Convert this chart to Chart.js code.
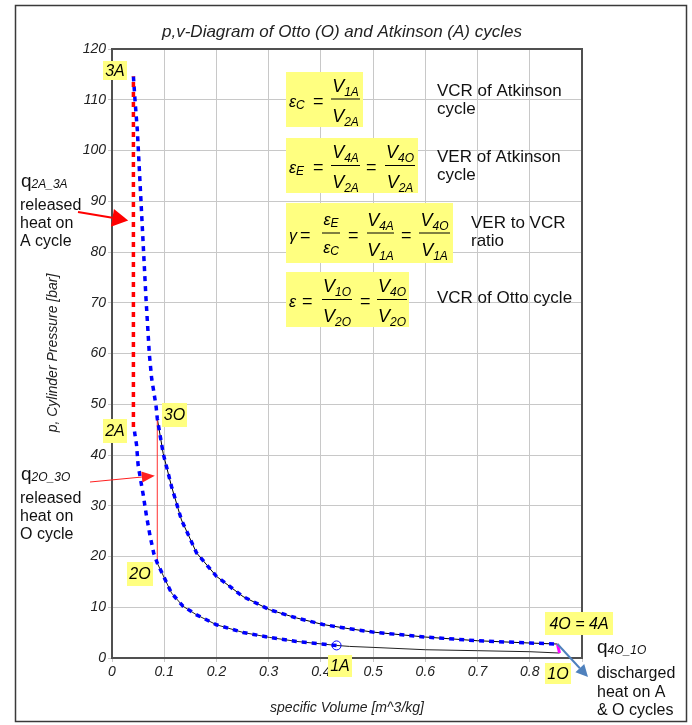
<!DOCTYPE html>
<html>
<head>
<meta charset="utf-8">
<script src="https://cdn.jsdelivr.net/npm/chart.js@4.4.0/dist/chart.umd.min.js"></script>
<style>
  html, body { margin: 0; padding: 0; background: #fff; }
</style>
</head>
<body>
<canvas id="chartCanvas" width="692" height="725"></canvas>
<script>
// Otto cycle (O): v [m^3/kg], p [bar]
const ottoCompV = [0.857, 0.80, 0.70, 0.60, 0.50, 0.455, 0.43, 0.353, 0.302, 0.251, 0.200, 0.162, 0.136, 0.114, 0.0867];
const ottoCompP = [0.98, 1.24, 1.44, 1.63, 2.09, 2.28, 2.48, 3.27, 4.05, 5.04, 6.55, 8.5, 10.2, 12.8, 18.7];
const ottoHeatV = [0.0867, 0.0867];
const ottoHeatP = [18.7, 47.2];
const ottoExpV = [0.0867, 0.098, 0.114, 0.133, 0.162, 0.200, 0.251, 0.302, 0.353, 0.404, 0.452, 0.50, 0.60, 0.70, 0.80, 0.853];
const ottoExpP = [47.2, 40.3, 33.8, 27.2, 20.7, 16.1, 12.1, 9.5, 7.9, 6.6, 5.8, 5.1, 4.13, 3.4, 2.95, 2.75];
const ottoRejV = [0.853, 0.857];
const ottoRejP = [2.75, 0.98];

// Atkinson cycle (A)
const atkHeatV = [0.041, 0.041];
const atkHeatP = [45.5, 114.6];
const atkExpV = [0.041, 0.044, 0.0485, 0.052, 0.0555, 0.060, 0.065, 0.0714, 0.076, 0.080, 0.0845].concat(ottoExpV);
const atkExpP = [114.6, 110, 104, 97, 90, 81, 71, 60, 55, 52.5, 49.5].concat(ottoExpP);
const atkCompV = [0.43, 0.353, 0.302, 0.251, 0.200, 0.162, 0.136, 0.114, 0.0867, 0.080, 0.073, 0.066, 0.060, 0.055, 0.050, 0.047, 0.044, 0.042];
const atkCompP = [2.48, 3.27, 4.05, 5.04, 6.55, 8.5, 10.2, 12.8, 18.7, 20.6, 24, 28, 32, 35, 38, 42, 44, 45.5];
const point1A = [0.43, 2.48];

const xTicks = [0, 0.1, 0.2, 0.3, 0.4, 0.5, 0.6, 0.7, 0.8];

const FONT = 'Arial, "Liberation Sans", sans-serif';

function pts(vs, ps) {
  return vs.map((v, i) => ({ x: v, y: ps[i] }));
}

function line(data, color, width, dash) {
  return {
    data: data,
    showLine: true,
    borderColor: color,
    borderWidth: width,
    borderDash: dash || [],
    borderCapStyle: "butt",
    pointRadius: 0,
    tension: 0,
    fill: false
  };
}

// texte avec indices
function runs(ctx, x, y, parts) {
  let cx = x;
  for (const [t, size, dy, style] of parts) {
    ctx.font = (style || "italic") + " " + size + "px " + FONT;
    ctx.fillText(t, cx, y + (dy || 0));
    cx += ctx.measureText(t).width;
  }
  return cx;
}
function runsWidth(ctx, parts) {
  let w = 0;
  for (const [t, size, dy, style] of parts) {
    ctx.font = (style || "italic") + " " + size + "px " + FONT;
    w += ctx.measureText(t).width;
  }
  return w;
}
function V(sub) { return [["V", 18, 0], [sub, 12, 4]]; }
function E(sub) { return [["\u03B5", 16, 0], [sub, 12, 2]]; }

function frac(ctx, x1, x2, barY, num, den, numDy, denDy) {
  ctx.strokeStyle = "#000";
  ctx.lineWidth = 1;
  ctx.beginPath();
  ctx.moveTo(x1, barY + 0.5);
  ctx.lineTo(x2, barY + 0.5);
  ctx.stroke();
  const cx = (x1 + x2) / 2;
  runs(ctx, cx - runsWidth(ctx, num) / 2, barY + (numDy || -7), num);
  runs(ctx, cx - runsWidth(ctx, den) / 2, barY + (denDy || 23), den);
}
function eq(ctx, x, barY) {
  runs(ctx, x, barY + 8, [["=", 18, 0, "normal"]]);
}

function arrow(ctx, x1, y1, x2, y2, color, lw, headLen, headW) {
  const a = Math.atan2(y2 - y1, x2 - x1);
  const bx = x2 - headLen * Math.cos(a), by = y2 - headLen * Math.sin(a);
  ctx.strokeStyle = color;
  ctx.fillStyle = color;
  ctx.lineWidth = lw;
  ctx.beginPath();
  ctx.moveTo(x1, y1);
  ctx.lineTo(bx, by);
  ctx.stroke();
  ctx.beginPath();
  ctx.moveTo(x2, y2);
  ctx.lineTo(bx + headW * Math.sin(a), by - headW * Math.cos(a));
  ctx.lineTo(bx - headW * Math.sin(a), by + headW * Math.cos(a));
  ctx.closePath();
  ctx.fill();
}

function box(ctx, x, y, w, h, text) {
  ctx.fillStyle = "#ffff80";
  ctx.fillRect(x, y, w, h);
  if (text) {
    ctx.fillStyle = "#000";
    ctx.font = "italic 16px " + FONT;
    ctx.textAlign = "center";
    ctx.textBaseline = "middle";
    ctx.fillText(text, x + w / 2, y + h / 2 + 1);
    ctx.textAlign = "left";
    ctx.textBaseline = "alphabetic";
  }
}

const bgPlugin = {
  id: "bg",
  beforeDraw(chart) {
    const ctx = chart.ctx;
    ctx.save();
    ctx.fillStyle = "#fff";
    ctx.fillRect(0, 0, chart.width, chart.height);
    ctx.restore();
  }
};

const annotPlugin = {
  id: "annot",
  afterDraw(chart) {
    const ctx = chart.ctx;
    const a = chart.chartArea;
    const xs = chart.scales.x, ys = chart.scales.y;
    ctx.save();

    // cadre du graphe
    ctx.strokeStyle = "#505050";
    ctx.lineWidth = 2;
    ctx.strokeRect(a.left, a.top, a.right - a.left, a.bottom - a.top);

    // cadre extérieur
    ctx.strokeStyle = "#3a3a3a";
    ctx.lineWidth = 1.5;
    ctx.strokeRect(15.5, 5.5, 671, 716);

    // titre
    ctx.fillStyle = "#222";
    ctx.font = "italic 17px " + FONT;
    ctx.textAlign = "center";
    ctx.textBaseline = "middle";
    ctx.fillText("p,v-Diagram of Otto (O) and Atkinson (A) cycles", 342, 32);

    // titres des axes
    ctx.font = "italic 14px " + FONT;
    ctx.fillText("specific Volume [m^3/kg]", (a.left + a.right) / 2, 708);
    ctx.save();
    ctx.translate(53, 353);
    ctx.rotate(-Math.PI / 2);
    ctx.fillText("p, Cylinder Pressure [bar]", 0, 0);
    ctx.restore();
    ctx.textAlign = "left";
    ctx.textBaseline = "alphabetic";

    // étiquettes jaunes des points
    box(ctx, 103, 61, 24, 19, "3A");
    box(ctx, 103, 419, 24, 24, "2A");
    box(ctx, 162, 403, 25, 24, "3O");
    box(ctx, 127, 562, 26, 24, "2O");
    box(ctx, 328, 655, 24, 22, "1A");
    box(ctx, 545, 663, 26, 21, "1O");
    box(ctx, 545, 612, 68, 23, "4O = 4A");

    // formules
    ctx.fillStyle = "#ffff80";
    ctx.fillRect(286, 72, 77, 55);
    ctx.fillRect(286, 138, 132, 55);
    ctx.fillRect(286, 203, 167, 60);
    ctx.fillRect(286, 272, 123, 55);
    ctx.fillStyle = "#000";

    let b = 98.5;
    runs(ctx, 289, b + 8, E("C"));
    eq(ctx, 313, b);
    frac(ctx, 331, 360, b, V("1A"), V("2A"));

    b = 165;
    runs(ctx, 289, b + 8, E("E"));
    eq(ctx, 313, b);
    frac(ctx, 331, 360, b, V("4A"), V("2A"));
    eq(ctx, 366, b);
    frac(ctx, 385, 415, b, V("4O"), V("2A"));

    b = 232.5;
    runs(ctx, 289, b + 8, [["\u03B3", 16, 0]]);
    eq(ctx, 300, b);
    frac(ctx, 322, 340, b, E("E"), E("C"), -8, 20);
    eq(ctx, 348, b);
    frac(ctx, 367, 394, b, V("4A"), V("1A"));
    eq(ctx, 401, b);
    frac(ctx, 419, 450, b, V("4O"), V("1A"));

    b = 299;
    runs(ctx, 289, b + 8, [["\u03B5", 16, 0]]);
    eq(ctx, 302, b);
    frac(ctx, 322, 352, b, V("1O"), V("2O"));
    eq(ctx, 360, b);
    frac(ctx, 377, 407, b, V("4O"), V("2O"));

    // descriptions
    ctx.fillStyle = "#111";
    ctx.font = "17px " + FONT;
    ctx.fillText("VCR of Atkinson", 437, 96);
    ctx.fillText("cycle", 437, 113.5);
    ctx.fillText("VER of Atkinson", 437, 162);
    ctx.fillText("cycle", 437, 180);
    ctx.fillText("VER to VCR", 471, 228);
    ctx.fillText("ratio", 471, 246);
    ctx.fillText("VCR of Otto cycle", 437, 303);

    // textes de chaleur
    ctx.fillStyle = "#111";
    runs(ctx, 21, 187, [["q", 19, 0, "normal"], ["2A_3A", 12, 1]]);
    ctx.font = "16px " + FONT;
    ctx.fillText("released", 20, 210);
    ctx.fillText("heat on", 20, 228);
    ctx.fillText("A cycle", 20, 246);

    runs(ctx, 21, 480, [["q", 19, 0, "normal"], ["2O_3O", 12, 1]]);
    ctx.font = "16px " + FONT;
    ctx.fillText("released", 20, 503);
    ctx.fillText("heat on", 20, 521);
    ctx.fillText("O cycle", 20, 539);

    runs(ctx, 597, 653, [["q", 19, 0, "normal"], ["4O_1O", 12, 1]]);
    ctx.font = "16px " + FONT;
    ctx.fillText("discharged", 597, 678);
    ctx.fillText("heat on A", 597, 696.5);
    ctx.fillText("& O cycles", 597, 715);

    // flèches
    arrow(ctx, 78, 212, xs.getPixelForValue(0.031), ys.getPixelForValue(86.2), "#ff0000", 2, 16, 9);
    arrow(ctx, 90, 482, xs.getPixelForValue(0.082), ys.getPixelForValue(35.9), "#ff2020", 1, 13, 5.5);
    arrow(ctx, xs.getPixelForValue(ottoRejV[0]), ys.getPixelForValue(ottoRejP[0]), 588, 677, "#4f81bd", 2, 12, 6);

    ctx.restore();
  }
};

const ctx = document.getElementById("chartCanvas").getContext("2d");

new Chart(ctx, {
  type: "scatter",
  data: {
    datasets: [
      {
        data: [{ x: point1A[0], y: point1A[1] }],
        pointRadius: 4.5,
        pointBackgroundColor: "rgba(0,0,0,0)",
        pointBorderColor: "#0000ff",
        pointBorderWidth: 1,
        showLine: false
      },
      line(pts(atkHeatV, atkHeatP), "#ff0000", 3.5, [5, 5]),
      line(pts(atkExpV, atkExpP), "#0000ff", 3.5, [5, 5]),
      line(pts(atkCompV, atkCompP), "#0000ff", 3.5, [5, 5]),
      line(pts(ottoRejV, ottoRejP), "#ff00ff", 3),
      line(pts(ottoHeatV, ottoHeatP), "#ff3030", 1),
      line(pts(ottoExpV, ottoExpP), "#000000", 1),
      line(pts(ottoCompV, ottoCompP), "#222222", 1)
    ]
  },
  options: {
    responsive: false,
    animation: false,
    layout: { padding: { top: 49, right: 110, left: 0, bottom: 0 } },
    plugins: {
      legend: { display: false },
      tooltip: { enabled: false },
      title: { display: false }
    },
    scales: {
      x: {
        type: "linear",
        min: 0,
        max: 0.9,
        afterBuildTicks: (s) => { s.ticks = xTicks.concat([0.9]).map((v) => ({ value: v })); },
        afterFit: (s) => { s.height = 67; },
        ticks: {
          font: { family: FONT, size: 14, style: "italic" },
          color: "#222",
          padding: 2,
          maxRotation: 0,
          callback: (v) => (Math.abs(v - 0.9) < 1e-6 ? "" : v === 0 ? "0" : v.toFixed(1))
        },
        grid: { color: "#c8c8c8", lineWidth: 1, tickLength: 4 },
        border: { display: false }
      },
      y: {
        min: 0,
        max: 120,
        afterFit: (s) => { s.width = 112; },
        ticks: {
          stepSize: 10,
          font: { family: FONT, size: 14, style: "italic" },
          color: "#222",
          padding: 2
        },
        grid: { color: "#c8c8c8", lineWidth: 1, tickLength: 4 },
        border: { display: false }
      }
    }
  },
  plugins: [bgPlugin, annotPlugin]
});
</script>
</body>
</html>
